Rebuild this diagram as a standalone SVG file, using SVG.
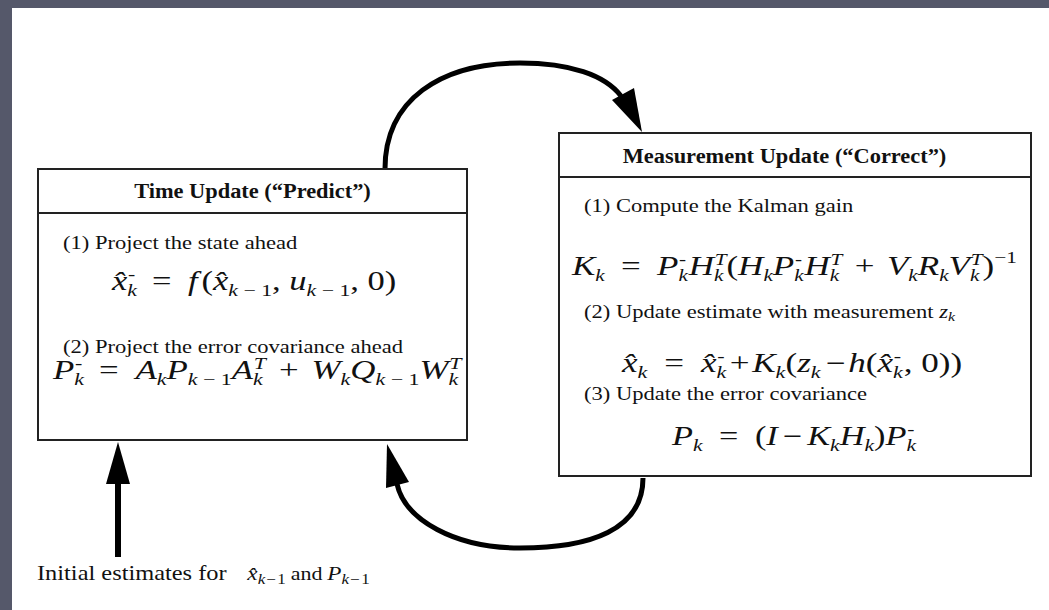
<svg xmlns="http://www.w3.org/2000/svg" width="1049" height="610" viewBox="0 0 1049 610">
<style>
.bg{fill:#55586a}
.paper{fill:#ffffff}
.box{fill:#ffffff;stroke:#222;stroke-width:2}
.div{stroke:#222;stroke-width:2}
.t{font-family:"Liberation Serif","Times New Roman",serif;font-size:18.5px;fill:#111}
.h{font-family:"Liberation Serif","Times New Roman",serif;font-size:20px;font-weight:bold;fill:#111}
.m{font-family:"Liberation Serif","Times New Roman",serif;font-size:27px;fill:#111}
.i{font-style:italic}
.s{font-size:17px}
.wire{fill:none;stroke:#000;stroke-width:5}
.head{fill:#000}
</style>
<rect class="bg" x="0" y="0" width="1049" height="610"/>
<rect class="paper" x="12" y="8" width="1037" height="602"/>

<g id="connectors">
  <path class="wire" d="M385,169 C385,100 440,63 520,63 C570,63 605,75 621,96"/>
  <polygon class="head" points="642,132 612,100 634,88"/>
  <path class="wire" d="M643,478 C643,530 590,548 520,548 C455,548 405,520 397,484"/>
  <polygon class="head" points="387,444 386,488 409,482"/>
  <line class="wire" x1="118" y1="557" x2="118" y2="480" style="stroke-width:6"/>
  <polygon class="head" points="118,442 106,484 130,484"/>
</g>

<g id="time-update">
  <rect class="box" x="38" y="169" width="429" height="271"/>
  <line class="div" x1="38" y1="213" x2="467" y2="213"/>
  <g transform="translate(252.5,198) scale(1.12,1)"><text class="h" text-anchor="middle">Time Update (“Predict”)</text></g>
  <g transform="translate(63,249) scale(1.22,1)"><text class="t">(1) Project the state ahead</text></g>
  <g transform="translate(112,290) scale(1.28,1)"><text class="m"><tspan class="i">x̂</tspan><tspan class="i s" dy="6">k</tspan><tspan class="s" dx="-7" dy="-16">-</tspan><tspan dx="13" dy="10">=</tspan><tspan class="i" dx="13">f</tspan><tspan dx="3">(</tspan><tspan class="i">x̂</tspan><tspan class="i s" dy="6">k</tspan><tspan class="s"> − 1</tspan><tspan dy="-6">, </tspan><tspan class="i">u</tspan><tspan class="i s" dy="6">k</tspan><tspan class="s"> − 1</tspan><tspan dy="-6">, 0)</tspan></text></g>
  <g transform="translate(63,353) scale(1.22,1)"><text class="t">(2) Project the error covariance ahead</text></g>
  <g transform="translate(53,379) scale(1.29,1)"><text class="m"><tspan class="i">P</tspan><tspan class="i s" dy="6">k</tspan><tspan class="s" dx="-7" dy="-16">-</tspan><tspan dx="13" dy="10">=</tspan><tspan class="i" dx="13">A</tspan><tspan class="i s" dy="6">k</tspan><tspan class="i" dy="-6">P</tspan><tspan class="i s" dy="6">k</tspan><tspan class="s"> − 1</tspan><tspan class="i" dy="-6">A</tspan><tspan class="i s" dy="6">k</tspan><tspan class="i s" dx="-7" dy="-16">T</tspan><tspan dx="10" dy="10">+</tspan><tspan class="i" dx="10">W</tspan><tspan class="i s" dy="6">k</tspan><tspan class="i" dy="-6">Q</tspan><tspan class="i s" dy="6">k</tspan><tspan class="s"> − 1</tspan><tspan class="i" dy="-6">W</tspan><tspan class="i s" dy="6">k</tspan><tspan class="i s" dx="-7" dy="-16">T</tspan></text></g>
</g>

<g id="measurement-update">
  <rect class="box" x="559" y="133" width="472" height="343"/>
  <line class="div" x1="559" y1="177" x2="1031" y2="177"/>
  <g transform="translate(784.5,163) scale(1.12,1)"><text class="h" text-anchor="middle">Measurement Update (“Correct”)</text></g>
  <g transform="translate(584,212) scale(1.22,1)"><text class="t">(1) Compute the Kalman gain</text></g>
  <g transform="translate(572,275) scale(1.25,1)"><text class="m" style="font-size:28px"><tspan class="i">K</tspan><tspan class="i s" dy="6">k</tspan><tspan dx="13" dy="-6">=</tspan><tspan class="i" dx="13">P</tspan><tspan class="i s" dy="6">k</tspan><tspan class="s" dx="-7" dy="-16">-</tspan><tspan class="i" dx="2" dy="10">H</tspan><tspan class="i s" dy="6">k</tspan><tspan class="i s" dx="-7" dy="-16">T</tspan><tspan dy="10">(</tspan><tspan class="i">H</tspan><tspan class="i s" dy="6">k</tspan><tspan class="i" dy="-6">P</tspan><tspan class="i s" dy="6">k</tspan><tspan class="s" dx="-7" dy="-16">-</tspan><tspan class="i" dx="2" dy="10">H</tspan><tspan class="i s" dy="6">k</tspan><tspan class="i s" dx="-7" dy="-16">T</tspan><tspan dx="10" dy="10">+</tspan><tspan class="i" dx="10">V</tspan><tspan class="i s" dy="6">k</tspan><tspan class="i" dy="-6">R</tspan><tspan class="i s" dy="6">k</tspan><tspan class="i" dy="-6">V</tspan><tspan class="i s" dy="6">k</tspan><tspan class="i s" dx="-7" dy="-16">T</tspan><tspan dy="10">)</tspan><tspan class="s" dy="-12">−1</tspan></text></g>
  <g transform="translate(584,318) scale(1.22,1)"><text class="t">(2) Update estimate with measurement <tspan class="i">z</tspan><tspan class="i" style="font-size:13px" dy="3">k</tspan></text></g>
  <g transform="translate(622,372) scale(1.3,1)"><text class="m"><tspan class="i">x̂</tspan><tspan class="i s" dy="6">k</tspan><tspan dx="13" dy="-6">=</tspan><tspan class="i" dx="13">x̂</tspan><tspan class="i s" dy="6">k</tspan><tspan class="s" dx="-7" dy="-16">-</tspan><tspan dx="4" dy="10">+</tspan><tspan class="i" dx="2">K</tspan><tspan class="i s" dy="6">k</tspan><tspan dy="-6">(</tspan><tspan class="i">z</tspan><tspan class="i s" dy="6">k</tspan><tspan dx="4" dy="-6">−</tspan><tspan class="i" dx="2">h</tspan><tspan>(</tspan><tspan class="i">x̂</tspan><tspan class="i s" dy="6">k</tspan><tspan class="s" dx="-7" dy="-16">-</tspan><tspan dx="2" dy="10">, 0))</tspan></text></g>
  <g transform="translate(584,400) scale(1.22,1)"><text class="t">(3) Update the error covariance</text></g>
  <g transform="translate(672,445) scale(1.27,1)"><text class="m"><tspan class="i">P</tspan><tspan class="i s" dy="6">k</tspan><tspan dx="13" dy="-6">=</tspan><tspan dx="13">(</tspan><tspan class="i">I</tspan><tspan dx="4">−</tspan><tspan class="i" dx="4">K</tspan><tspan class="i s" dy="6">k</tspan><tspan class="i" dy="-6">H</tspan><tspan class="i s" dy="6">k</tspan><tspan dy="-6">)</tspan><tspan class="i">P</tspan><tspan class="i s" dy="6">k</tspan><tspan class="s" dx="-7" dy="-16">-</tspan></text></g>
</g>

<g id="initial-estimates">
  <g transform="translate(37,580) scale(1.22,1)"><text class="t" style="font-size:20px">Initial estimates for <tspan class="i" dx="12" style="font-size:19px">x̂</tspan><tspan class="i" style="font-size:14px" dy="4">k</tspan><tspan style="font-size:14px" dx="1">−</tspan><tspan style="font-size:14px" dx="1">1</tspan><tspan style="font-size:18px" dx="4" dy="-4">and</tspan><tspan class="i" style="font-size:19px" dx="4">P</tspan><tspan class="i" style="font-size:14px" dy="4">k</tspan><tspan style="font-size:14px" dx="1">−</tspan><tspan style="font-size:14px" dx="1">1</tspan></text></g>
</g>
</svg>
